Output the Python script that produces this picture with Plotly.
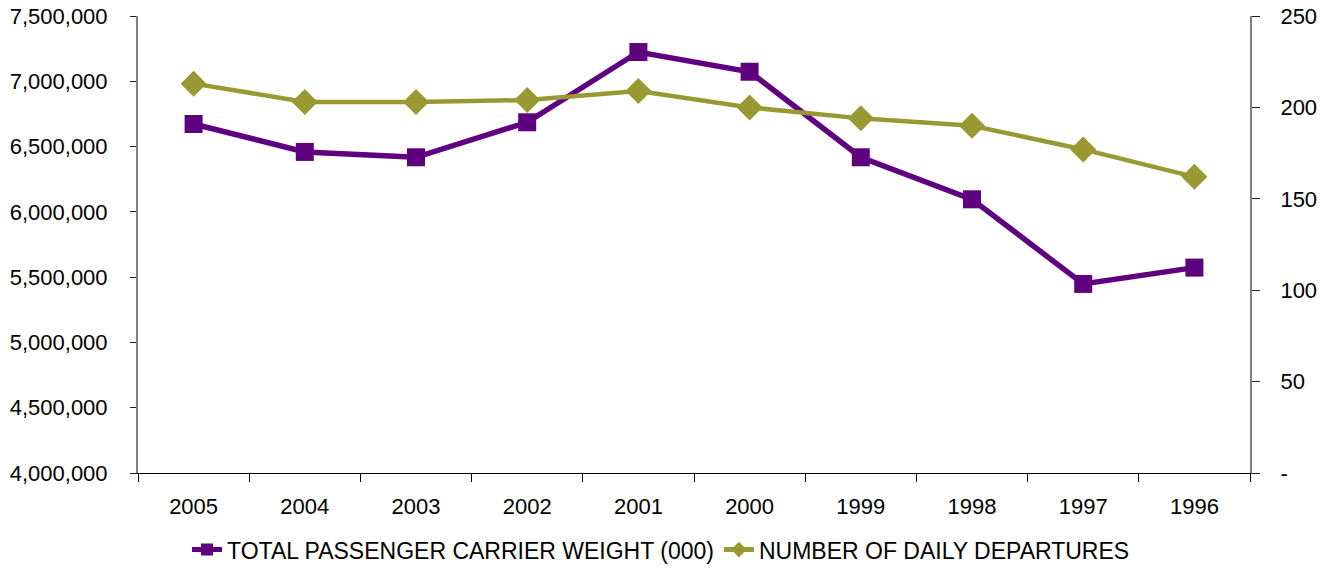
import plotly.graph_objects as go

# Years shown on the category axis (most recent first)
years = ["2005", "2004", "2003", "2002", "2001", "2000", "1999", "1998", "1997", "1996"]

# Total passenger carrier weight (000) - left axis
carrier_weight = [6673000, 6459000, 6418000, 6686000, 7224000,
                  7073000, 6418000, 6096000, 5448000, 5573000]

# Number of daily departures - right axis
daily_departures = [213, 203, 203, 204, 209, 200, 194, 190, 177, 162]

# Right-axis ticks (zero is printed as a dash)
right_tickvals = [0, 50, 100, 150, 200, 250]
right_ticktext = ["-", "50", "100", "150", "200", "250"]

PURPLE = "#5f007f"
OLIVE = "#999933"
FONT = "Liberation Sans, Arial, sans-serif"

fig = go.Figure()

fig.add_trace(go.Scatter(
    x=years, y=carrier_weight,
    name="TOTAL PASSENGER CARRIER WEIGHT (000)",
    mode="lines+markers",
    line=dict(color=PURPLE, width=5.5),
    marker=dict(symbol="square", size=18, color=PURPLE),
    yaxis="y",
))

fig.add_trace(go.Scatter(
    x=years, y=daily_departures,
    name="NUMBER OF DAILY DEPARTURES",
    mode="lines+markers",
    line=dict(color=OLIVE, width=4.5),
    marker=dict(symbol="diamond", size=20, color=OLIVE),
    yaxis="y2",
))

fig.update_layout(
    width=1330, height=569,
    margin=dict(l=138, r=80, t=16, b=96, autoexpand=False),
    paper_bgcolor="white", plot_bgcolor="white",
    font=dict(family=FONT, size=22, color="black"),
    showlegend=True,
    legend=dict(
        orientation="h",
        xref="container", x=0.497, xanchor="center",
        yref="container", y=0.034, yanchor="middle",
        font=dict(family=FONT, size=23, color="black"),
        itemsizing="constant",
        tracegroupgap=0,
        bgcolor="rgba(0,0,0,0)",
    ),
    xaxis=dict(
        type="category",
        categoryorder="array", categoryarray=years,
        range=[-0.5, len(years) - 0.5],
        showline=True, linecolor="black", linewidth=1,
        ticks="outside", ticklen=8, tickcolor="black", tickwidth=1,
        tickson="boundaries",
        showgrid=False, zeroline=False,
        ticklabelstandoff=14,
        tickfont=dict(size=22),
        automargin=False,
    ),
    yaxis=dict(
        range=[4000000, 7500000], dtick=500000, tickformat=",d",
        showline=True, linecolor="#808080", linewidth=2,
        ticks="outside", ticklen=6, tickcolor="#202020", tickwidth=1,
        showgrid=False, zeroline=False,
        ticklabelstandoff=18,
        tickfont=dict(size=22),
        automargin=False,
    ),
    yaxis2=dict(
        range=[0, 250], tickvals=right_tickvals, ticktext=right_ticktext,
        overlaying="y", side="right", anchor="x",
        showline=True, linecolor="#808080", linewidth=2,
        ticks="outside", ticklen=8, tickcolor="#202020", tickwidth=1,
        showgrid=False, zeroline=False,
        ticklabelstandoff=16,
        tickfont=dict(size=22),
        automargin=False,
    ),
    # inner halves of the crossing tick marks
    yaxis3=dict(
        range=[4000000, 7500000], dtick=500000,
        overlaying="y", side="left", anchor="x",
        ticks="inside", ticklen=6, tickcolor="#202020", tickwidth=1,
        showticklabels=False, showline=False, showgrid=False, zeroline=False,
        automargin=False,
    ),
    yaxis4=dict(
        range=[0, 250], dtick=50,
        overlaying="y", side="right", anchor="x",
        ticks="inside", ticklen=6, tickcolor="#202020", tickwidth=1,
        showticklabels=False, showline=False, showgrid=False, zeroline=False,
        automargin=False,
    ),
)

fig.write_html("out.html")
